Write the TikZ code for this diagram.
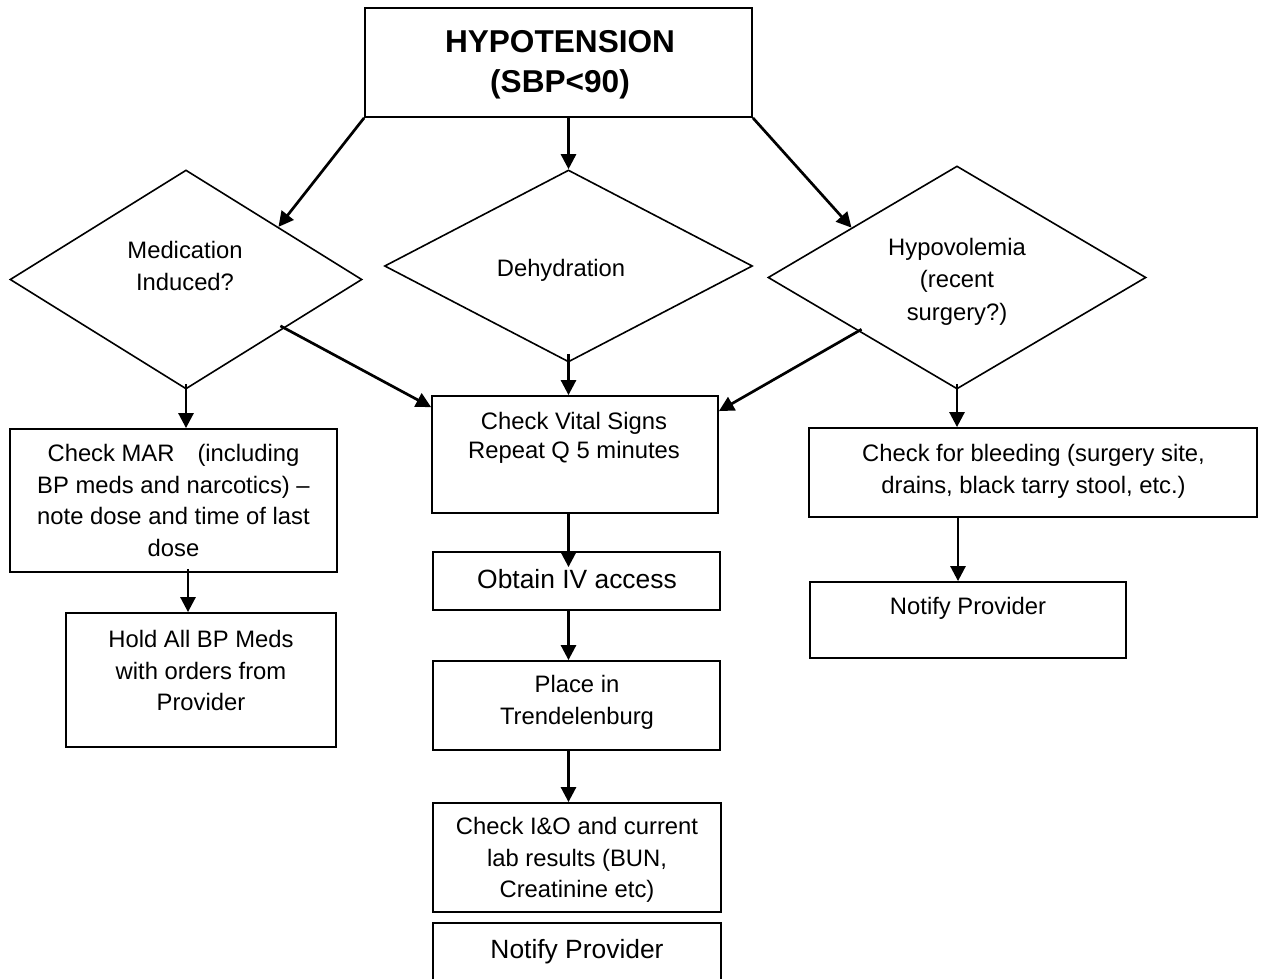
\documentclass[tikz,border=0pt]{standalone}
\usepackage{fontspec}
\setmainfont{Liberation Sans}
\usetikzlibrary{shapes.geometric,arrows.meta,calc}
\begin{document}
\begin{tikzpicture}[x=0.5pt,y=-0.5pt,
  box/.style={draw,line width=0.9pt,inner sep=0pt,rectangle},
  dia/.style={draw,line width=0.8pt,diamond,inner sep=0pt},
  txt/.style={align=center,font=\fontsize{11.9}{15.8}\selectfont,inner sep=0pt},
  big/.style={align=center,font=\fontsize{13.2}{16}\selectfont,inner sep=0pt},
  arr/.style={line width=1.35pt,-{Triangle[length=7.5pt,width=7.5pt]}}]
\useasboundingbox (0,0) rectangle (1263,979);
\clip (0,0) rectangle (1263,979);

% shapes
\node[box,minimum width=193.5pt,minimum height=54.5pt] (title) at (558.5,62.5) {};
\node[dia,minimum width=176pt,minimum height=109.5pt] (med) at (186,279.5) {};
\node[dia,minimum width=184pt,minimum height=96pt] (dehyd) at (568.5,266) {};
\node[dia,minimum width=189pt,minimum height=111.5pt] (hypo) at (957,277.5) {};
\node[box,minimum width=163.5pt,minimum height=71.5pt] (mar) at (173.5,500.5) {};
\node[box,minimum width=135pt,minimum height=67pt] (hold) at (201,680) {};
\node[box,minimum width=143pt,minimum height=58.5pt] (vital) at (575,454.5) {};
\node[box,minimum width=143.5pt,minimum height=29pt] (iv) at (576.5,581) {};
\node[box,minimum width=143.5pt,minimum height=44.5pt] (place) at (576.5,705.5) {};
\node[box,minimum width=144pt,minimum height=54.5pt] (io) at (577,857.5) {};
\node[box,minimum width=144pt,minimum height=33pt] (notb) at (577,956) {};
\node[box,minimum width=224pt,minimum height=44.5pt] (bleed) at (1033,472.5) {};
\node[box,minimum width=158pt,minimum height=38pt] (notr) at (968,620) {};

% texts
\node[align=center,inner sep=0pt,font=\bfseries\fontsize{15.8}{20}\selectfont] (ttitle) at (560,65) {HYPOTENSION\\(SBP<90)};
\node[txt] (tmed) at (185,266) {Medication\\Induced?};
\node[txt] (tdehyd) at (561,270) {Dehydration};
\node[txt,font=\fontsize{11.9}{16.2}\selectfont] (thypo) at (957,281.5) {Hypovolemia\\(recent\\surgery?)};
\node[txt] (tmar) at (173.5,500.5) {Check MAR\hspace*{11.5pt}(including\\BP meds and narcotics) --\\note dose and time of last\\dose};
\node[txt] (thold) at (201,670.5) {Hold All BP Meds\\with orders from\\Provider};
\node[txt,font=\fontsize{11.9}{14.6}\selectfont] (tvital) at (574,438) {Check Vital Signs\\Repeat Q 5 minutes};
\node[big] (tiv) at (577,579) {Obtain IV access};
\node[txt] (tplace) at (577,702.5) {Place in\\Trendelenburg};
\node[txt] (tio) at (577,860) {Check I\&O and current\\lab results (BUN,\\Creatinine etc)};
\node[big] (tnotb) at (577,952) {Notify Provider};
\node[txt,font=\fontsize{11.9}{16}\selectfont] (tbleed) at (1033.5,471) {Check for bleeding (surgery site,\\drains, black tarry stool, etc.)};
\node[txt] (tnotr) at (968,608) {Notify Provider};

% connectors
\draw[arr] (title.south west) -- ($(med.north)!0.523!(med.east)$);
\draw[arr] (dehyd.north |- title.south) -- (dehyd.north);
\draw[arr] (title.south east) -- ($(hypo.north)!0.556!(hypo.west)$);
\draw[arr] ($(med.south)+(0,-6)$) -- (med.south |- mar.north);
\draw[arr] ($(med.east)!0.466!(med.south)+(0,-5)$) -- ($(vital.north west)+(0,12)$);
\draw[arr] ($(dehyd.south)+(0,-9)$) -- (dehyd.south |- vital.north);
\draw[arr] ($(hypo.west)!0.497!(hypo.south)+(0,-4)$) -- ($(vital.north east)+(0,16)$);
\draw[arr] ($(hypo.south)+(0,-6)$) -- (hypo.south |- bleed.north);
\draw[arr] ($(mar.south -| med.south)+(2,-4)$) -- ($(hold.north -| med.south)+(2,0)$);
\draw[arr] (dehyd.south |- vital.south) -- ($(dehyd.south |- iv.north)+(0,16)$);
\draw[arr] (dehyd.south |- iv.south) -- (dehyd.south |- place.north);
\draw[arr] (dehyd.south |- place.south) -- (dehyd.south |- io.north);
\draw[arr] ($(hypo.south |- bleed.south)+(1,-2)$) -- ($(hypo.south |- notr.north)+(1,0)$);
\end{tikzpicture}
\end{document}
